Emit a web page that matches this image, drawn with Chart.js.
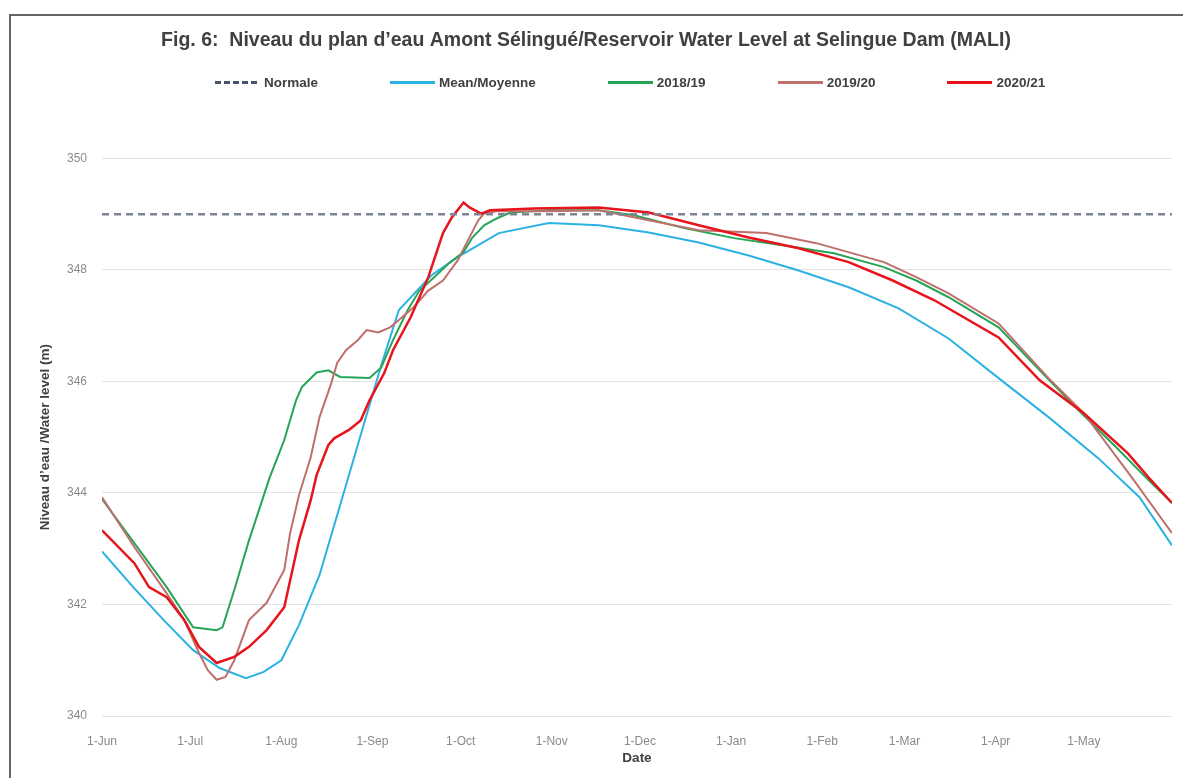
<!DOCTYPE html>
<html>
<head>
<meta charset="utf-8">
<script src="https://cdn.jsdelivr.net/npm/chart.js@4.4.0/dist/chart.umd.min.js"></script>
<style>
  html, body { margin: 0; padding: 0; background: #fff; }
  body { width: 1183px; height: 778px; overflow: hidden; position: relative; font-family: 'Liberation Sans', Arial, sans-serif; }
  #frame { position: absolute; left: 9px; top: 14px; width: 1220px; height: 820px; border: 2px solid #666; box-sizing: border-box; }
  #wrap { position: absolute; left: 0; top: 0; width: 1183px; height: 778px; }
  #legend { position: absolute; left: 215px; top: 75px; display: flex; gap: 72px; align-items: center; }
  .item { display: flex; align-items: center; }
  .swatch { width: 45px; height: 2.5px; margin-right: 4px; }
  .label { font-weight: bold; font-size: 13.5px; color: #404040; white-space: nowrap; }
</style>
</head>
<body>
<div id="frame"></div>
<div id="wrap"><canvas id="levelChart"></canvas></div>
<div id="legend"></div>
<script>
// day 0 = 1 June, day 364 = 31 May
const monthTicks = [0, 30, 61, 92, 122, 153, 183, 214, 245, 273, 304, 334];
const monthLabels = ['1-Jun', '1-Jul', '1-Aug', '1-Sep', '1-Oct', '1-Nov', '1-Dec', '1-Jan', '1-Feb', '1-Mar', '1-Apr', '1-May'];

const normalDays = [0, 364];
const normalLevels = [349, 349];

const meanDays = [0, 11, 21, 31, 40, 49, 55, 61, 67, 74, 81, 88, 95, 101, 112, 121, 135, 152, 169, 186, 203, 220, 237, 254, 271, 288, 305, 322, 339, 353, 364];
const meanLevels = [342.95, 342.29, 341.72, 341.18, 340.86, 340.68, 340.79, 341.00, 341.63, 342.53, 343.78, 345.04, 346.29, 347.28, 347.90, 348.23, 348.66, 348.84, 348.80, 348.67, 348.49, 348.26, 347.99, 347.69, 347.31, 346.77, 346.06, 345.36, 344.62, 343.92, 343.06];

const days1819 = [0, 11, 22, 31, 39, 41, 45, 50, 57, 62, 66, 68, 73, 77, 81, 91, 95, 99, 104, 108, 113, 118, 123, 126, 130, 133, 135, 139, 152, 169, 181, 198, 215, 232, 249, 266, 277, 288, 305, 319, 334, 345, 356, 364];
const levels1819 = [343.89, 343.10, 342.31, 341.59, 341.54, 341.59, 342.26, 343.15, 344.27, 344.95, 345.66, 345.90, 346.16, 346.20, 346.08, 346.06, 346.25, 346.74, 347.28, 347.63, 347.87, 348.12, 348.32, 348.58, 348.80, 348.89, 348.94, 349.03, 349.07, 349.07, 348.98, 348.75, 348.57, 348.44, 348.30, 348.05, 347.81, 347.51, 346.97, 346.20, 345.39, 344.82, 344.23, 343.82];

const days1920 = [0, 11, 22, 28, 33, 36, 39, 42, 45, 50, 56, 62, 64, 67, 71, 74, 78, 80, 83, 87, 90, 94, 98, 101, 106, 111, 116, 121, 124, 128, 130, 134, 152, 169, 186, 203, 226, 243, 266, 277, 288, 305, 322, 334, 351, 364];
const levels1920 = [343.92, 343.03, 342.20, 341.72, 341.13, 340.82, 340.65, 340.70, 341.00, 341.72, 342.03, 342.62, 343.28, 343.96, 344.64, 345.36, 345.97, 346.33, 346.56, 346.74, 346.92, 346.88, 346.97, 347.10, 347.33, 347.63, 347.81, 348.17, 348.48, 348.89, 349.01, 349.05, 349.05, 349.07, 348.89, 348.71, 348.66, 348.48, 348.14, 347.87, 347.58, 347.04, 346.06, 345.43, 344.23, 343.28];

const days2021 = [0, 11, 16, 22, 28, 33, 39, 45, 50, 56, 62, 67, 71, 73, 77, 79, 84, 88, 91, 96, 99, 105, 111, 116, 119, 123, 125, 129, 132, 147, 169, 186, 203, 220, 237, 254, 269, 283, 305, 319, 334, 349, 356, 364];
const levels2021 = [343.33, 342.74, 342.31, 342.13, 341.72, 341.24, 340.95, 341.06, 341.24, 341.54, 341.95, 343.15, 343.87, 344.32, 344.86, 344.98, 345.13, 345.30, 345.66, 346.15, 346.56, 347.15, 347.87, 348.66, 348.94, 349.21, 349.12, 349.01, 349.07, 349.10, 349.12, 349.03, 348.80, 348.58, 348.39, 348.14, 347.81, 347.46, 346.79, 346.02, 345.43, 344.71, 344.28, 343.82];

function toPoints(days, levels) {
    return days.map((d, i) => ({ x: d, y: levels[i] }));
}

const ctx = document.getElementById('levelChart').getContext('2d');

const chart = new Chart(ctx, {
    type: 'line',
    data: {
        datasets: [
            { label: 'Normale', data: toPoints(normalDays, normalLevels), borderColor: '#7d8592', borderWidth: 2.5, borderDash: [7, 5], order: 0 },
            { label: 'Mean/Moyenne', data: toPoints(meanDays, meanLevels), borderColor: '#2cb2e2', borderWidth: 2, order: 4 },
            { label: '2018/19', data: toPoints(days1819, levels1819), borderColor: '#26a556', borderWidth: 2, order: 3 },
            { label: '2019/20', data: toPoints(days1920, levels1920), borderColor: '#bf6f6c', borderWidth: 2, order: 2 },
            { label: '2020/21', data: toPoints(days2021, levels2021), borderColor: '#e8141c', borderWidth: 2.5, order: 1 }
        ]
    },
    options: {
        responsive: true,
        maintainAspectRatio: false,
        animation: false,
        layout: { padding: { left: 0, right: 11, top: 0, bottom: 0 } },
        elements: {
            point: { radius: 0 },
            line: { tension: 0, fill: false }
        },
        plugins: {
            legend: { display: false },
            tooltip: { enabled: false },
            title: {
                display: true,
                text: 'Fig. 6:  Niveau du plan d\u2019eau Amont S\u00e9lingu\u00e9/Reservoir Water Level at Selingue Dam (MALI)',
                color: '#404040',
                font: { family: 'Liberation Sans', size: 19.5, weight: 'bold' },
                padding: { top: 29, bottom: 106 }
            }
        },
        scales: {
            x: {
                type: 'linear',
                min: 0,
                max: 364,
                afterFit: (scale) => { scale.height = 62; },
                afterBuildTicks: (scale) => { scale.ticks = monthTicks.map(v => ({ value: v })); },
                ticks: {
                    autoSkip: false,
                    maxRotation: 0,
                    padding: 10,
                    color: '#8a8a8a',
                    font: { family: 'Liberation Sans', size: 12 },
                    callback: (value) => monthLabels[monthTicks.indexOf(value)]
                },
                grid: { display: false },
                border: { display: false },
                title: {
                    display: true,
                    text: 'Date',
                    color: '#404040',
                    font: { family: 'Liberation Sans', size: 13.5, weight: 'bold' },
                    padding: { top: 0, bottom: 12 }
                }
            },
            y: {
                min: 340,
                max: 350,
                afterFit: (scale) => { scale.width = 102; },
                ticks: {
                    stepSize: 2,
                    padding: 15,
                    color: '#8a8a8a',
                    font: { family: 'Liberation Sans', size: 12 }
                },
                grid: { color: '#e2e2e2', lineWidth: 1, drawTicks: false },
                border: { display: false },
                title: {
                    display: true,
                    text: 'Niveau d\u2019eau /Water level (m)',
                    color: '#404040',
                    font: { family: 'Liberation Sans', size: 13.5, weight: 'bold' },
                    padding: { top: 37, bottom: 0 }
                }
            }
        }
    }
});

// legend built from the datasets
const legendEl = document.getElementById('legend');
chart.data.datasets.forEach(ds => {
    const item = document.createElement('div');
    item.className = 'item';
    const sw = document.createElement('span');
    sw.className = 'swatch';
    if (ds.borderDash) {
        sw.style.background = 'repeating-linear-gradient(to right, #44546a 0 6px, transparent 6px 9px)';
    } else {
        sw.style.background = ds.borderColor;
    }
    const txt = document.createElement('span');
    txt.className = 'label';
    txt.textContent = ds.label;
    item.appendChild(sw);
    item.appendChild(txt);
    legendEl.appendChild(item);
});
</script>
</body>
</html>
